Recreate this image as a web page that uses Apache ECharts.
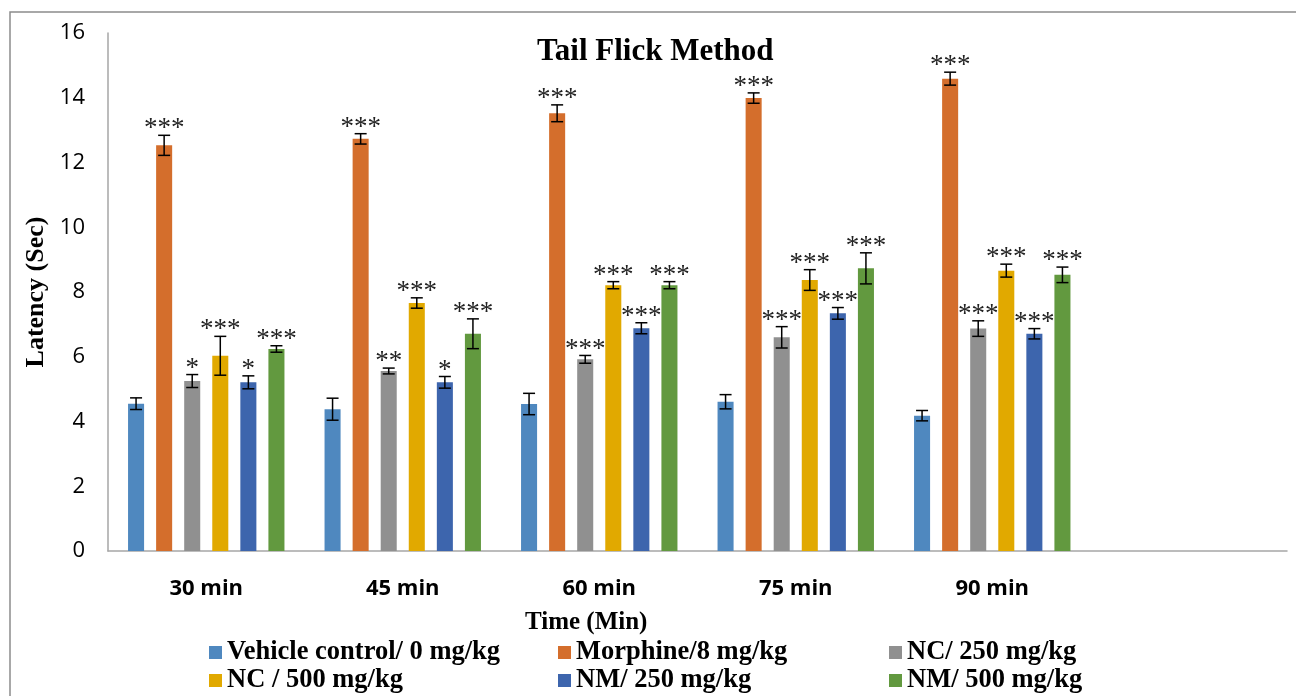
<!DOCTYPE html>
<html>
<head>
<meta charset="utf-8">
<script src="https://cdn.jsdelivr.net/npm/echarts@6/dist/echarts.min.js"></script>
<style>html,body{margin:0;padding:0;background:#fff;}#chart{width:1296px;height:696px;}</style>
</head>
<body>
<div id="chart"></div>
<script>
const categories = ['30 min', '45 min', '60 min', '75 min', '90 min', ''];
const seriesNames = ['Vehicle control/ 0 mg/kg', 'Morphine/8 mg/kg', 'NC/ 250 mg/kg', 'NC / 500 mg/kg', 'NM/ 250 mg/kg', 'NM/ 500 mg/kg'];
const yTicks = [0, 2, 4, 6, 8, 10, 12, 14, 16];

const vehicle = [4.55, 4.38, 4.54, 4.61, 4.18];
const vehicleErr = [0.18, 0.34, 0.33, 0.22, 0.16];
const vehicleStars = ['', '', '', '', ''];

const morphine = [12.53, 12.73, 13.52, 13.99, 14.59];
const morphineErr = [0.31, 0.16, 0.26, 0.16, 0.20];
const morphineStars = ['***', '***', '***', '***', '***'];

const nc250 = [5.25, 5.56, 5.92, 6.60, 6.87];
const nc250Err = [0.20, 0.09, 0.12, 0.33, 0.24];
const nc250Stars = ['*', '**', '***', '***', '***'];

const nc500 = [6.03, 7.66, 8.21, 8.37, 8.66];
const nc500Err = [0.60, 0.16, 0.11, 0.32, 0.20];
const nc500Stars = ['***', '***', '***', '***', '***'];

const nm250 = [5.21, 5.21, 6.88, 7.34, 6.71];
const nm250Err = [0.20, 0.18, 0.17, 0.18, 0.16];
const nm250Stars = ['*', '*', '***', '***', '***'];

const nm500 = [6.24, 6.71, 8.21, 8.73, 8.53];
const nm500Err = [0.10, 0.46, 0.11, 0.48, 0.24];
const nm500Stars = ['***', '***', '***', '***', '***'];

const colors = ['#4f88bf', '#d46e2c', '#909090', '#e1a900', '#3d65ad', '#62993f'];
const allValues = [vehicle, morphine, nc250, nc500, nm250, nm500];
const allErrs = [vehicleErr, morphineErr, nc250Err, nc500Err, nm250Err, nm500Err];
const allStars = [vehicleStars, morphineStars, nc250Stars, nc500Stars, nm250Stars, nm500Stars];

const CAT_GAP = 0.204, BAR_GAP = 0.75, N = 6;

const barSeries = allValues.map((vals, i) => ({
  name: seriesNames[i],
  type: 'bar',
  data: vals,
  barCategoryGap: (CAT_GAP * 100) + '%',
  barGap: (BAR_GAP * 100) + '%',
  itemStyle: { color: colors[i] },
  z: 2
}));

const errSeries = allValues.map((vals, i) => ({
  name: 'err' + i,
  type: 'custom',
  z: 5,
  clip: false,
  encode: { x: 0, y: 1 },
  data: vals.map((v, k) => [k, v, allErrs[i][k]]),
  renderItem: function (params, api) {
    const ci = api.value(0), v = api.value(1), e = api.value(2);
    const bw = api.size([1, 0])[0];
    const cg = bw * CAT_GAP;
    const barW = (bw - cg) / (N + (N - 1) * BAR_GAP);
    const off = -bw / 2 + cg / 2 + i * barW * (1 + BAR_GAP) + barW / 2;
    const x = api.coord([ci, 0])[0] + off;
    const yT = api.coord([ci, v + e])[1];
    const yB = api.coord([ci, v - e])[1];
    const cap = 6;
    const ls = { stroke: '#000', lineWidth: 1.5 };
    const children = [
      { type: 'line', shape: { x1: x, y1: yT, x2: x, y2: yB }, style: ls },
      { type: 'line', shape: { x1: x - cap, y1: yT, x2: x + cap, y2: yT }, style: ls },
      { type: 'line', shape: { x1: x - cap, y1: yB, x2: x + cap, y2: yB }, style: ls }
    ];
    const s = allStars[i][params.dataIndex];
    if (s) {
      children.push({
        type: 'text', x: x, y: yT - 6,
        style: { text: s, align: 'center', verticalAlign: 'middle', font: '27px "Liberation Serif"', fill: '#222' }
      });
    }
    return { type: 'group', children: children };
  }
}));

const legendPos = [[209, 639], [558, 639], [889, 639], [209, 667], [558, 667], [889, 667]];
const legends = seriesNames.map((n, i) => ({
  data: [n],
  left: legendPos[i][0],
  top: legendPos[i][1],
  padding: 0,
  icon: 'rect',
  itemWidth: 13,
  itemHeight: 13,
  selectedMode: false,
  textStyle: { fontFamily: '"Liberation Serif"', fontWeight: 'bold', fontSize: 26.5, color: '#000' }
}));

const chart = echarts.init(document.getElementById('chart'));
chart.setOption({
  animation: false,
  backgroundColor: '#fff',
  title: [
    { text: 'Tail Flick Method', left: 537, top: 36, padding: 0,
      textStyle: { fontFamily: '"Liberation Serif"', fontWeight: 'bold', fontSize: 31, color: '#000' } },
    { text: 'Time (Min)', left: 525, top: 610, padding: 0,
      textStyle: { fontFamily: '"Liberation Serif"', fontWeight: 'bold', fontSize: 25, color: '#000' } }
  ],
  legend: legends,
  grid: { left: 108, right: 9, top: 33, bottom: 145, containLabel: false },
  xAxis: {
    type: 'category',
    data: categories,
    axisTick: { show: false },
    axisLine: { lineStyle: { color: '#a6a6a6', width: 1.5 } },
    axisLabel: { interval: 0, margin: 27, fontFamily: '"Open Sans"', fontWeight: 'bold', fontSize: 22, color: '#000' }
  },
  yAxis: {
    type: 'value',
    min: yTicks[0],
    max: yTicks[yTicks.length - 1],
    interval: yTicks[1] - yTicks[0],
    splitLine: { show: false },
    axisTick: { show: false },
    axisLine: { show: true, lineStyle: { color: '#a6a6a6', width: 1.5 } },
    axisLabel: { margin: 23, fontFamily: '"Open Sans"', fontSize: 22, color: '#000' },
    name: 'Latency (Sec)',
    nameLocation: 'middle',
    nameRotate: 90,
    nameGap: 59,
    nameTextStyle: { fontFamily: '"Liberation Serif"', fontWeight: 'bold', fontSize: 26, color: '#000' }
  },
  graphic: [
    { type: 'rect', silent: true, z: -10, shape: { x: 10, y: 12, width: 1400, height: 800 },
      style: { fill: 'none', stroke: '#8c8c8c', lineWidth: 1.5 } }
  ],
  series: barSeries.concat(errSeries)
});
</script>
</body>
</html>
